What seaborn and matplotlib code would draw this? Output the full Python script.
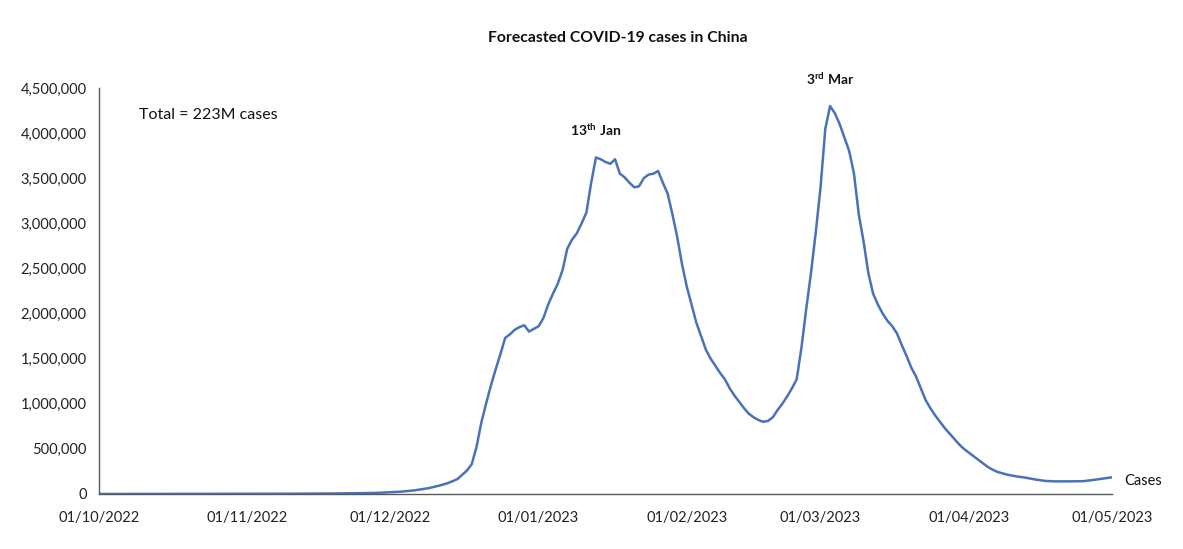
import matplotlib
matplotlib.use("Agg")
import matplotlib.pyplot as plt
import matplotlib.dates as mdates
from matplotlib.ticker import FuncFormatter
import seaborn as sns
import pandas as pd

start_date = "2022-10-01"
day_offsets = [0, 10, 20, 31, 40, 50, 58, 63, 66, 69, 71, 73, 75, 77, 78, 79, 80,
               81, 82, 83, 84, 85, 86, 87, 88, 89, 90, 91, 92, 93, 94, 95, 96, 97,
               98, 99, 100, 101, 102, 103, 104, 105, 106, 107, 108, 109, 110, 111,
               112, 113, 114, 115, 116, 117, 118, 119, 120, 121, 122, 123, 124, 125,
               126, 127, 128, 129, 130, 131, 132, 133, 134, 135, 136, 137, 138, 139,
               140, 141, 142, 143, 144, 145, 146, 147, 148, 149, 150, 151, 152, 153,
               154, 155, 156, 157, 158, 159, 160, 161, 162, 163, 164, 165, 166, 167,
               168, 169, 170, 171, 172, 173, 174, 175, 176, 177, 178, 179, 180, 181,
               182, 183, 184, 185, 186, 187, 188, 189, 190, 192, 194, 196, 198, 200,
               203, 206, 208, 210, 212]
cases = [0, 500, 1000, 2000, 3000, 6000, 12000, 25000, 40000, 65000, 90000, 120000,
         165000, 260000, 330000, 520000, 790000,
         1000000, 1200000, 1380000, 1550000, 1730000, 1770000, 1820000, 1850000,
         1870000, 1800000, 1830000, 1860000, 1950000, 2100000, 2220000, 2330000,
         2480000, 2720000, 2820000, 2890000, 3000000, 3120000, 3450000, 3730000,
         3710000, 3680000, 3660000, 3710000, 3550000, 3510000, 3450000, 3400000,
         3410000, 3500000, 3540000, 3550000, 3580000, 3450000, 3330000, 3100000,
         2850000, 2550000, 2300000, 2100000, 1900000, 1750000, 1600000, 1500000,
         1420000, 1340000, 1270000, 1170000, 1090000, 1020000, 950000, 890000,
         850000, 820000, 800000, 810000, 850000, 930000, 1000000, 1080000, 1170000,
         1270000, 1620000, 2050000, 2450000, 2900000, 3400000, 4050000, 4300000,
         4220000, 4100000, 3950000, 3800000, 3550000, 3100000, 2800000, 2450000,
         2220000, 2100000, 2000000, 1920000, 1860000, 1780000, 1650000, 1530000,
         1400000, 1300000, 1170000, 1040000, 950000, 870000, 800000, 730000, 670000,
         610000, 550000, 500000, 460000, 420000, 380000, 340000, 300000, 270000,
         245000, 230000, 215000, 195000, 180000, 160000, 145000, 140000, 140000,
         142000, 155000, 170000, 185000]

title = "Forecasted COVID-19 cases in China"
total_note = "Total = 223M cases"
series_name = "Cases"
peak_labels = [r"13$^{\mathbf{th}}$ Jan", r"3$^{\mathbf{rd}}$ Mar"]
peak_days = [104, 153]
peak_values = [3730000, 4300000]

df = pd.DataFrame({
    "date": pd.Timestamp(start_date) + pd.to_timedelta(day_offsets, unit="D"),
    "cases": cases,
})

sns.set_style("white")
plt.rcParams["font.family"] = ["Lato", "DejaVu Sans"]
plt.rcParams["mathtext.fontset"] = "custom"
plt.rcParams["mathtext.rm"] = "Lato"
plt.rcParams["mathtext.bf"] = "Lato:bold"

fig = plt.figure(figsize=(11.83, 5.49), dpi=100)
ax = fig.add_axes([0.0837, 0.1002, 0.8563, 0.7395])

line_color = "#4a72b8"
sns.lineplot(data=df, x="date", y="cases", ax=ax, color=line_color, linewidth=1.8)

ax.set_xlim(pd.Timestamp("2022-10-01"), pd.Timestamp("2023-05-01"))
ax.set_ylim(0, 4500000)
ax.set_yticks(range(0, 4500001, 500000))
ax.yaxis.set_major_formatter(FuncFormatter(lambda v, p: f"{int(v):,}"))
ax.xaxis.set_major_locator(mdates.MonthLocator())
ax.xaxis.set_major_formatter(mdates.DateFormatter("%d/%m/%Y"))
ax.set_xlabel("")
ax.set_ylabel("")

for side in ["top", "right"]:
    ax.spines[side].set_visible(False)
for side in ["left", "bottom"]:
    ax.spines[side].set_color("#595959")
    ax.spines[side].set_linewidth(1.0)
ax.tick_params(axis="both", which="major", length=5, width=1.0, color="#595959",
               labelsize=10.5, labelcolor="#222222", direction="out")
ax.tick_params(axis="x", pad=7)
ax.tick_params(axis="y", pad=4)
ax.grid(False)

fig.text(0.522, 0.93, title, ha="center", va="center", fontsize=11.3,
         fontweight="bold", color="#111111")
ax.text(0.0395, 0.933, total_note, transform=ax.transAxes, ha="left", va="center",
        fontsize=11.5, color="#111111")

for lbl, d, v in zip(peak_labels, peak_days, peak_values):
    ax.annotate(lbl, xy=(pd.Timestamp(start_date) + pd.Timedelta(days=d), v),
                xytext=(0, 14), textcoords="offset points", ha="center",
                va="bottom", fontsize=10, fontweight="bold", color="#111111")

ax.annotate(series_name, xy=(df["date"].iloc[-1], df["cases"].iloc[-1]),
            xytext=(9, -3), textcoords="offset points", ha="left", va="center",
            fontsize=10.5, color="#111111", annotation_clip=False)

fig.savefig("out.png", dpi=100, facecolor="white")
